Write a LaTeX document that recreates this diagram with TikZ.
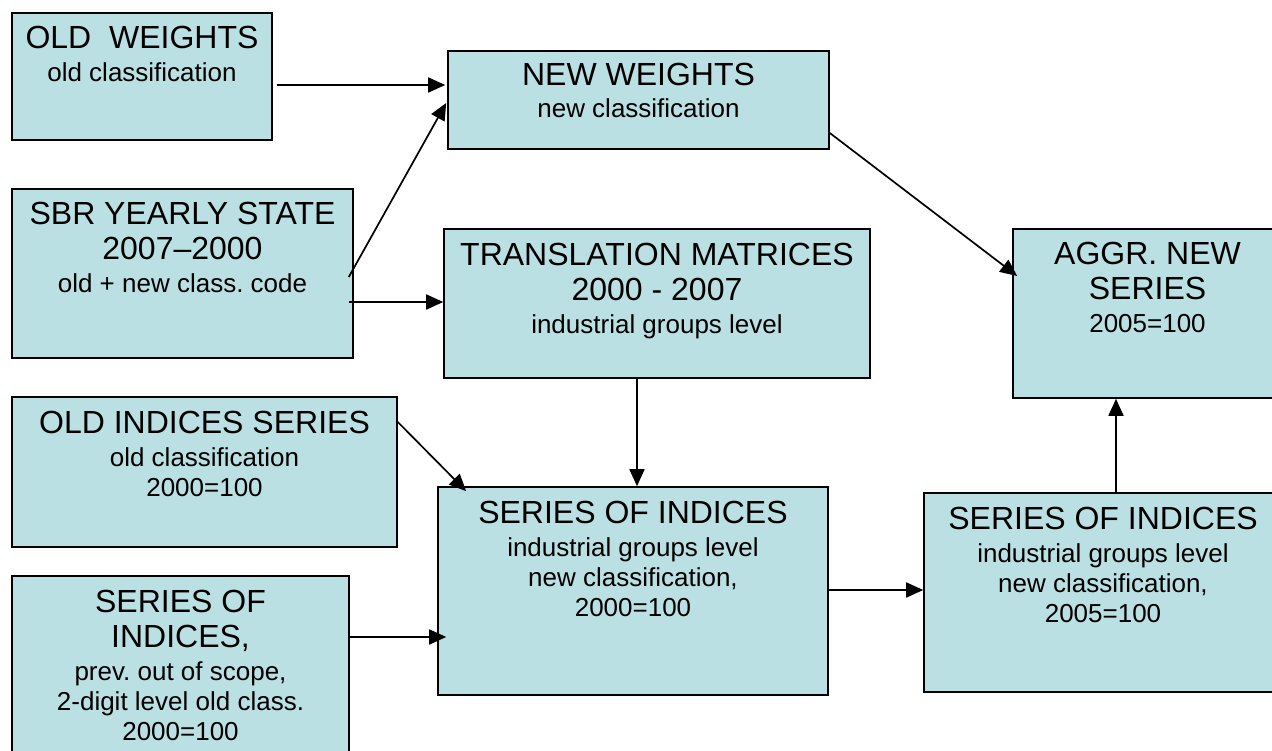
\documentclass[tikz,border=0pt]{standalone}
\usepackage{fontspec}
\setmainfont{Liberation Sans}
\usetikzlibrary{arrows.meta}
\newcommand\tbig{\fontsize{32}{35}\selectfont}
\definecolor{boxfill}{RGB}{187,224,227}
\frenchspacing
\begin{document}
\begin{tikzpicture}[x=1pt,y=1pt,
  box/.style={draw=black,fill=boxfill,line width=1.6pt,rectangle,inner sep=0pt},
  txt/.style={anchor=north,align=center,inner sep=0pt,font=\fontsize{26}{30}\selectfont\frenchspacing},
  conn/.style={line width=1.7pt,-{Triangle[length=17pt,width=15pt]}}]
\useasboundingbox (0,0) rectangle (1272,-751);
\clip (0,0) rectangle (1272,-751);
% boxes
\node[box,minimum width=260pt,minimum height=127pt] (ow) at (142,-76.5) {};
\node[box,minimum width=341pt,minimum height=169pt] (sbr) at (182.5,-273.5) {};
\node[box,minimum width=381pt,minimum height=98pt] (nw) at (638.5,-100) {};
\node[box,minimum width=426pt,minimum height=149pt] (tm) at (657,-303.5) {};
\node[box,minimum width=269pt,minimum height=169pt] (ag) at (1147.5,-313.5) {};
\node[box,minimum width=385pt,minimum height=150pt] (oi) at (204.5,-472) {};
\node[box,minimum width=390pt,minimum height=208pt] (sm) at (633,-591) {};
\node[box,minimum width=358pt,minimum height=199pt] (sr) at (1103,-592.5) {};
\node[box,minimum width=337pt,minimum height=194pt] (sl) at (180.5,-673) {};
% texts
\node[txt] (owt) at ([yshift=-14pt]ow.north) {{\tbig OLD\ \ WEIGHTS}\\[3pt]old classification};
\node[txt] (nwt) at ([yshift=-13pt]nw.north) {{\tbig NEW WEIGHTS}\\[2pt]new classification};
\node[txt] (sbrt) at ([yshift=-14pt]sbr.north) {{\tbig SBR YEARLY STATE}\\[5pt]{\tbig 2007–2000}\\[3pt]old + new class. code};
\node[txt] (tmt) at ([yshift=-15pt]tm.north) {{\tbig TRANSLATION MATRICES}\\[5pt]{\tbig 2000 - 2007}\\[3pt]industrial groups level};
\node[txt] (agt) at ([yshift=-14pt]ag.north) {{\tbig AGGR. NEW}\\[5pt]{\tbig SERIES}\\[3pt]2005=100};
\node[txt] (oit) at ([yshift=-15pt]oi.north) {{\tbig OLD INDICES SERIES}\\[3pt]old classification\\2000=100};
\node[txt] (smt) at ([yshift=-15pt]sm.north) {{\tbig SERIES OF INDICES}\\[3pt]industrial groups level\\new classification,\\2000=100};
\node[txt] (srt) at ([yshift=-15pt]sr.north) {{\tbig SERIES OF INDICES}\\[3pt]industrial groups level\\new classification,\\2005=100};
\node[txt] (slt) at ([yshift=-15pt]sl.north) {{\tbig SERIES OF}\\[5pt]{\tbig INDICES,}\\[3pt]prev. out of scope,\\2-digit level old class.\\2000=100};
% connectors
\draw[conn] ([xshift=4pt,yshift=-8.5pt]ow.east) -- ([xshift=-2pt,yshift=15pt]nw.west);
\draw[conn] ([xshift=-5pt,yshift=-3.5pt]sbr.east) -- ([xshift=-1pt,yshift=-3pt]nw.west);
\draw[conn] ([xshift=-5pt,yshift=-28.5pt]sbr.east) -- ([yshift=1.5pt]tm.west);
\draw[conn] ([yshift=-33pt]nw.east) -- ([xshift=5pt,yshift=37.5pt]ag.west);
\draw[conn] ([xshift=-20pt]tm.south) -- ([xshift=4pt]sm.north);
\draw[conn] ([yshift=50pt]oi.east) -- ([xshift=29pt,yshift=-5pt]sm.north west);
\draw[conn] ([yshift=36pt]sl.east) -- ([xshift=9pt,yshift=-46pt]sm.west);
\draw[conn] ([yshift=1pt]sm.east) -- ([yshift=2.5pt]sr.west);
\draw[conn] ([xshift=13pt]sr.north) -- ([xshift=-31.5pt]ag.south);
\end{tikzpicture}
\end{document}
